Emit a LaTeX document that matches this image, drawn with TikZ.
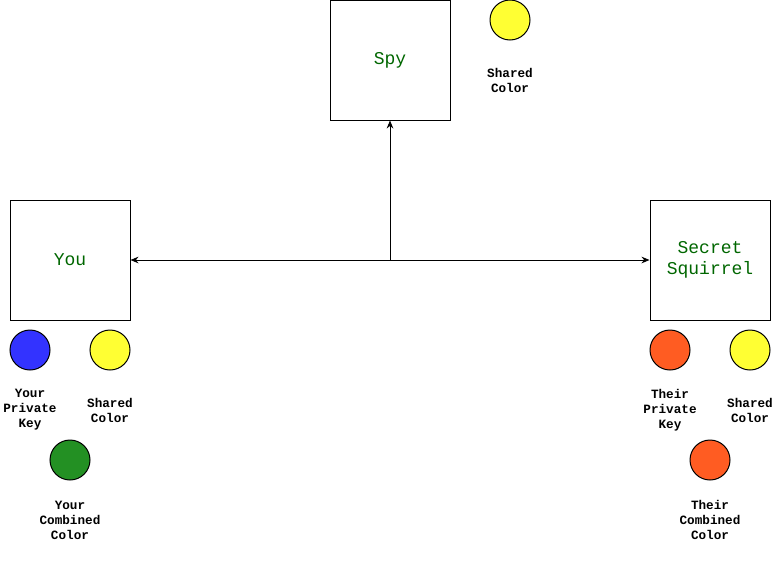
\documentclass[tikz,border=0pt]{standalone}
\usepackage{fontspec}
\setmainfont{Liberation Mono}
\usetikzlibrary{arrows.meta}
\definecolor{boxtext}{HTML}{006600}
\definecolor{cblue}{HTML}{3333FF}
\definecolor{cyellow}{HTML}{FFFF33}
\definecolor{cgreen}{HTML}{239023}
\definecolor{corange}{HTML}{FF5C22}
\tikzset{
  party/.style={draw=black, line width=0.75pt, minimum width=90pt, minimum height=90pt, inner sep=0pt, text=boxtext, font=\fontsize{13.5}{15.5}\selectfont, align=center},
  dot/.style={circle, draw=black, line width=0.75pt, minimum size=30pt, inner sep=0pt},
  lbl/.style={font=\bfseries\fontsize{9.5}{11.25}\selectfont, align=center, inner sep=0pt},
  conn/.style={line width=0.75pt, -{Stealth[length=6pt,width=5pt]}}
}
\begin{document}
\begin{tikzpicture}[x=0.75pt,y=-0.75pt]
\useasboundingbox (0,0) rectangle (781,561);
% boxes
\node[party] (spy) at (390,60) {Spy};
\node[party] (you) at (70,260) {You};
\node[party] (sq) at (710,260) {Secret\\Squirrel};
% circles
\node[dot, fill=cyellow] (spyshared) at (510,20) {};
\node[lbl] (spysharedl) at (510,80) {Shared\\Color};
\node[dot, fill=cblue] (youpriv) at (30,350) {};
\node[lbl] (youprivl) at (30,410) {Your\\Private\\Key};
\node[dot, fill=cyellow] (youshared) at (110,350) {};
\node[lbl] (yousharedl) at (110,410) {Shared\\Color};
\node[dot, fill=cgreen] (youcomb) at (70,460) {};
\node[lbl] (youcombl) at (70,520) {Your\\Combined\\Color};
\node[dot, fill=corange] (theirpriv) at (670,350) {};
\node[lbl] (theirprivl) at (670,410) {Their\\Private\\Key};
\node[dot, fill=cyellow] (theirshared) at (750,350) {};
\node[lbl] (theirsharedl) at (750,410) {Shared\\Color};
\node[dot, fill=corange] (theircomb) at (710,460) {};
\node[lbl] (theircombl) at (710,520) {Their\\Combined\\Color};
% connectors
\coordinate (hub) at (390,260);
\draw[conn] (hub) -- (you.east);
\draw[conn] (hub) -- (sq.west);
\draw[conn] (hub) -- (spy.south);
\end{tikzpicture}
\end{document}
